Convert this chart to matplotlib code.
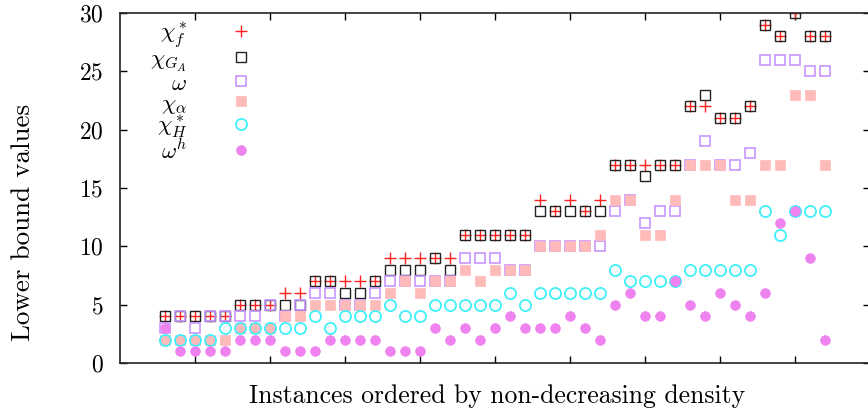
import matplotlib
matplotlib.use("Agg")
import matplotlib.pyplot as plt
import numpy as np

plt.rcParams['font.family'] = ['cmr10', 'DejaVu Serif']
plt.rcParams['mathtext.fontset'] = 'cm'
plt.rcParams['axes.formatter.use_mathtext'] = True

instances = list(range(3, 48))
chi_f = [4, 4, 4, 4, 4, 5, 5, 5, 6, 6, 7, 7, 7, 7, 7, 9, 9, 9, 9, 9, 11, 11, 11, 11, 11,
         14, 13, 14, 13, 14, 17, 17, 17, 17, 17, 22, 22, 21, 21, 22, 29, 28, 30, 28, 28]
chi_GA = [4, 4, 4, 4, 4, 5, 5, 5, 5, 5, 7, 7, 6, 6, 7, 8, 8, 8, 9, 8, 11, 11, 11, 11, 11,
          13, 13, 13, 13, 13, 17, 17, 16, 17, 17, 22, 23, 21, 21, 22, 29, 28, 30, 28, 28]
omega = [3, 4, 3, 4, 4, 4, 4, 5, 4, 5, 6, 6, 5, 5, 6, 7, 7, 7, 7, 7, 9, 9, 9, 8, 8,
         10, 10, 10, 10, 10, 13, 14, 12, 13, 13, 17, 19, 17, 17, 18, 26, 26, 26, 25, 25]
chi_alpha = [2, 2, 2, 2, 2, 3, 3, 3, 4, 4, 5, 5, 5, 5, 5, 6, 7, 6, 7, 7, 8, 7, 8, 8, 8,
             10, 10, 10, 10, 11, 14, 14, 11, 11, 14, 17, 17, 17, 14, 14, 17, 17, 23, 23, 17]
chi_H = [2, 2, 2, 2, 3, 3, 3, 3, 3, 3, 4, 3, 4, 4, 4, 5, 4, 4, 5, 5, 5, 5, 5, 6, 5,
         6, 6, 6, 6, 6, 8, 7, 7, 7, 7, 8, 8, 8, 8, 8, 13, 11, 13, 13, 13]
omega_h = [3, 1, 1, 1, 1, 2, 2, 2, 1, 1, 1, 2, 2, 2, 2, 1, 1, 1, 3, 2, 3, 2, 3, 4, 3,
           3, 3, 4, 3, 2, 5, 6, 4, 4, 7, 5, 4, 6, 5, 4, 6, 12, 13, 9, 2]

labels = [r'$\chi^*_f$', r'$\chi_{G_A}$', r'$\omega$', r'$\chi_\alpha$', r'$\chi^*_H$', r'$\omega^h$']
y_label = 'Lower bound values'
x_label = 'Instances ordered by non-decreasing density'

fig = plt.figure(figsize=(8.68, 4.15), dpi=100)
ax = fig.add_axes([120 / 868, 52 / 415, 750 / 868, 350 / 415])

ax.plot(instances, chi_f, linestyle='none', marker='+', color='#ff2020', ms=8, mew=1.0, label=labels[0])
ax.plot(instances, chi_GA, linestyle='none', marker='s', mfc='none', mec='#222222', ms=7.3, mew=1.0, label=labels[1])
ax.plot(instances, omega, linestyle='none', marker='s', mfc='none', mec='#c896ff', ms=7.3, mew=1.2, label=labels[2])
ax.plot(instances, chi_alpha, linestyle='none', marker='s', mfc='#ffbaba', mec='#ffbaba', ms=7.0, mew=0.5, label=labels[3])
ax.plot(instances, chi_H, linestyle='none', marker='o', mfc='none', mec='#40f0f8', ms=8, mew=1.3, label=labels[4])
ax.plot(instances, omega_h, linestyle='none', marker='o', mfc='#ee82ee', mec='#ee82ee', ms=7, mew=0.5, label=labels[5])

ax.set_xlim(0, 50)
ax.set_ylim(0, 30)
ax.set_xticks(range(5, 50, 5))
ax.set_xticklabels([])
ax.set_yticks(range(0, 31, 5))
ax.tick_params(axis='both', direction='in', length=5, width=1.0, labelsize=17,
               top=True, right=True, pad=12)
for s in ax.spines.values():
    s.set_linewidth(1.2)
    s.set_color('#222222')

ax.set_ylabel(y_label, fontsize=19.5)
ax.yaxis.set_label_coords(-0.113, 0.403)
ax.set_xlabel(x_label, fontsize=18.5)
ax.xaxis.set_label_coords(0.503, -0.062)

leg = ax.legend(loc='upper left', bbox_to_anchor=(0.04, 0.978), markerfirst=False, frameon=False,
                fontsize=16.5, handlelength=2.0, handleheight=0.9, handletextpad=1.35,
                labelspacing=-0.08, borderaxespad=0.0, borderpad=0.0)

fig.savefig('out.png', dpi=100)
